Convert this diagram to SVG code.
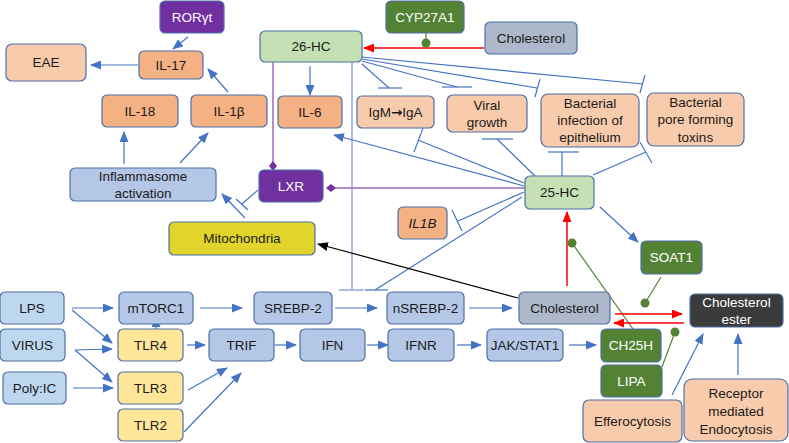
<svg xmlns="http://www.w3.org/2000/svg" width="789" height="443" viewBox="0 0 789 443">
<defs>
<marker id="ab" markerUnits="userSpaceOnUse" markerWidth="11" markerHeight="9" refX="10" refY="4.5" orient="auto"><path d="M0,0 L11,4.5 L0,9 z" fill="#4472C4"/></marker>
<marker id="ar" markerUnits="userSpaceOnUse" markerWidth="11" markerHeight="9" refX="10" refY="4.5" orient="auto"><path d="M0,0 L11,4.5 L0,9 z" fill="#FF0000"/></marker>
<marker id="ak" markerUnits="userSpaceOnUse" markerWidth="11" markerHeight="9" refX="10" refY="4.5" orient="auto"><path d="M0,0 L11,4.5 L0,9 z" fill="#000"/></marker>
<marker id="dp" markerUnits="userSpaceOnUse" markerWidth="10" markerHeight="10" refX="5" refY="5" orient="auto"><path d="M0,5 L5,1 L10,5 L5,9 z" fill="#7030A0"/></marker>
</defs>
<style>
.n{stroke:#4C6FA8;stroke-width:1.2}
.t{font-family:"Liberation Sans",Arial,sans-serif;font-size:13.5px;text-anchor:middle;fill:#1a1a1a}
.w{fill:#fff}
.pe{fill:#F8CBAD}.or{fill:#F4B183}.pu{fill:#7030A0}.gl{fill:#C5E0B4}.gd{fill:#548235}
.gr{fill:#ADB9CA}.bl{fill:#B4C7E7}.lb{fill:#BDD7EE}.ye{fill:#FFE699}.mi{fill:#E1D52B}.dk{fill:#3B3B3B}
.c line,.c path{fill:none;stroke:#4472C4;stroke-width:1.2}
.c .r{stroke:#FF0000;stroke-width:1.5}
.c .k{stroke:#000;stroke-width:1.2}
.c .p{stroke:#9B6BC4;stroke-width:1.5}
.c .g{stroke:#548235;stroke-width:1.2}
.c .v{stroke:#8FAADC;stroke-width:1.5}
.dot{fill:#548235}
</style>

<g class="c" id="connectors">
<line x1="188" y1="37" x2="173" y2="49" marker-end="url(#ab)"/>
<line x1="138" y1="65" x2="91" y2="65" marker-end="url(#ab)"/>
<line x1="228" y1="92" x2="208" y2="69" marker-end="url(#ab)"/>
<line x1="124" y1="164" x2="124" y2="132" marker-end="url(#ab)"/>
<line x1="180" y1="163" x2="208" y2="133" marker-end="url(#ab)"/>
<line x1="245" y1="218" x2="222" y2="194" marker-end="url(#ab)"/>
<line x1="258" y1="190" x2="242" y2="204"/>
<line x1="236" y1="199" x2="248" y2="210"/>
<line class="p" x1="273" y1="62" x2="273" y2="166" marker-end="url(#dp)"/>
<line x1="310" y1="66" x2="310" y2="95" marker-end="url(#ab)"/>
<line class="v" x1="352" y1="62" x2="352" y2="290"/>
<line class="v" x1="339" y1="290" x2="364" y2="290"/>
<line x1="362" y1="64" x2="389" y2="88"/>
<line x1="378" y1="88" x2="402" y2="88"/>
<line x1="362" y1="61" x2="457" y2="87"/>
<line x1="442" y1="87" x2="472" y2="87"/>
<line x1="362" y1="59" x2="537" y2="88"/>
<line x1="540" y1="79" x2="535" y2="97"/>
<line x1="362" y1="57" x2="643" y2="84"/>
<line x1="645" y1="75" x2="640" y2="93"/>
<line class="r" x1="484" y1="48" x2="364" y2="48" marker-end="url(#ar)"/>
<line class="g" x1="426" y1="33" x2="426" y2="43"/>
<circle class="dot" cx="426" cy="43" r="4.5"/>
<line class="p" x1="525" y1="188" x2="331" y2="188" marker-end="url(#dp)"/>
<line x1="524" y1="186" x2="334" y2="135" marker-end="url(#ab)"/>
<line x1="524" y1="183" x2="418" y2="140"/>
<line x1="423" y1="128" x2="414" y2="152"/>
<line x1="535" y1="176" x2="497" y2="139"/>
<line x1="482" y1="139" x2="513" y2="139"/>
<line x1="562" y1="176" x2="562" y2="152"/>
<line x1="548" y1="152" x2="579" y2="152"/>
<line x1="593" y1="175" x2="646" y2="152"/>
<line x1="640" y1="142" x2="652" y2="163"/>
<line x1="524" y1="192" x2="458" y2="221"/>
<line x1="452" y1="210" x2="462" y2="231"/>
<line x1="522" y1="197" x2="375" y2="290"/>
<line x1="365" y1="290" x2="388" y2="290"/>
<line x1="600" y1="207" x2="638" y2="242" marker-end="url(#ab)"/>
<line class="r" x1="567" y1="286" x2="567" y2="212" marker-end="url(#ar)"/>
<line class="g" x1="633" y1="329" x2="572" y2="243"/>
<circle class="dot" cx="572" cy="243" r="4.5"/>
<line class="g" x1="661" y1="277" x2="645" y2="303"/>
<circle class="dot" cx="645" cy="303" r="4.5"/>
<line class="r" x1="615" y1="314" x2="682" y2="314" marker-end="url(#ar)"/>
<line class="r" x1="684" y1="323" x2="614" y2="323" marker-end="url(#ar)"/>
<line class="g" x1="662" y1="367" x2="675" y2="332"/>
<circle class="dot" cx="675" cy="332" r="4.5"/>
<line x1="672" y1="395" x2="703" y2="334" marker-end="url(#ab)"/>
<line x1="738" y1="375" x2="738" y2="334" marker-end="url(#ab)"/>
<line class="k" x1="518" y1="298" x2="318" y2="244" marker-end="url(#ak)"/>
<line x1="72" y1="308" x2="113" y2="308" marker-end="url(#ab)"/>
<line x1="72" y1="310" x2="112" y2="343" marker-end="url(#ab)"/>
<line x1="75" y1="350" x2="112" y2="349" marker-end="url(#ab)"/>
<line x1="75" y1="350" x2="112" y2="382" marker-end="url(#ab)"/>
<line x1="73" y1="388" x2="113" y2="388" marker-end="url(#ab)"/>
<line x1="156" y1="329" x2="156" y2="317" marker-end="url(#ab)"/>
<line x1="200" y1="308" x2="242" y2="308" marker-end="url(#ab)"/>
<line x1="335" y1="308" x2="377" y2="308" marker-end="url(#ab)"/>
<line x1="469" y1="308" x2="512" y2="308" marker-end="url(#ab)"/>
<line x1="187" y1="345" x2="205" y2="345" marker-end="url(#ab)"/>
<line x1="188" y1="390" x2="227" y2="368" marker-end="url(#ab)"/>
<line x1="184" y1="432" x2="241" y2="373" marker-end="url(#ab)"/>
<line x1="275" y1="345" x2="296" y2="345" marker-end="url(#ab)"/>
<line x1="367" y1="345" x2="388" y2="345" marker-end="url(#ab)"/>
<line x1="457" y1="345" x2="481" y2="345" marker-end="url(#ab)"/>
<line x1="569" y1="345" x2="596" y2="345" marker-end="url(#ab)"/>
</g>

<g id="rorgt"><rect class="n pu" x="160" y="1" width="64" height="32" rx="5"/><text class="t w" x="192" y="22">RORγt</text></g>
<g id="eae"><rect class="n pe" x="6" y="44" width="80" height="37" rx="6"/><text class="t" x="46" y="67">EAE</text></g>
<g id="il17"><rect class="n or" x="139" y="51" width="64" height="28" rx="5"/><text class="t" x="171" y="70">IL-17</text></g>
<g id="il18"><rect class="n or" x="102" y="95" width="76" height="32" rx="5"/><text class="t" x="140" y="116">IL-18</text></g>
<g id="il1b"><rect class="n or" x="191" y="95" width="76" height="32" rx="5"/><text class="t" x="229" y="116">IL-1β</text></g>
<g id="hc26"><rect class="n gl" x="260" y="31" width="102" height="31" rx="5"/><text class="t" x="311" y="51">26-HC</text></g>
<g id="cyp27a1"><rect class="n gd" x="386" y="1" width="78" height="32" rx="5"/><text class="t w" x="425" y="22">CYP27A1</text></g>
<g id="chol-top"><rect class="n gr" x="485" y="22" width="92" height="32" rx="5"/><text class="t" x="531" y="43">Cholesterol</text></g>
<g id="il6"><rect class="n or" x="278" y="96" width="64" height="32" rx="5"/><text class="t" x="310" y="117">IL-6</text></g>
<g id="igm"><rect class="n pe" x="357" y="96" width="77" height="32" rx="5"/><text class="t" x="395.5" y="117">IgM<tspan font-family="DejaVu Sans" font-weight="bold">→</tspan>IgA</text></g>
<g id="viral"><rect class="n pe" x="447" y="95" width="80" height="37" rx="6"/><text class="t" x="487" y="110">Viral</text><text class="t" x="487" y="127">growth</text></g>
<g id="bact-inf"><rect class="n pe" x="541" y="94" width="98" height="53" rx="7"/><text class="t" x="590" y="108">Bacterial</text><text class="t" x="590" y="125">infection of</text><text class="t" x="590" y="142">epithelium</text></g>
<g id="bact-pore"><rect class="n pe" x="647" y="93" width="97" height="53" rx="7"/><text class="t" x="695.5" y="107">Bacterial</text><text class="t" x="695.5" y="124">pore forming</text><text class="t" x="695.5" y="142">toxins</text></g>
<g id="inflammasome"><rect class="n bl" x="70" y="168" width="146" height="33" rx="5"/><text class="t" x="143" y="181">Inflammasome</text><text class="t" x="143" y="198">activation</text></g>
<g id="lxr"><rect class="n pu" x="259" y="170" width="64" height="32" rx="5"/><text class="t w" x="291" y="191">LXR</text></g>
<g id="mito"><rect class="n mi" x="169" y="222" width="146" height="33" rx="5"/><text class="t" x="242" y="243">Mitochondria</text></g>
<g id="hc25"><rect class="n gl" x="525" y="176" width="69" height="33" rx="5"/><text class="t" x="559.5" y="197">25-HC</text></g>
<g id="il1b-gene"><rect class="n or" x="398" y="207" width="49" height="32" rx="5"/><text class="t" x="422.5" y="228" font-style="italic">IL1B</text></g>
<g id="soat1"><rect class="n gd" x="641" y="241" width="61" height="33" rx="5"/><text class="t w" x="671.5" y="262">SOAT1</text></g>
<g id="chol-ester"><rect class="n dk" x="690" y="294" width="93" height="33" rx="5"/><text class="t w" x="736.5" y="307">Cholesterol</text><text class="t w" x="736.5" y="324">ester</text></g>
<g id="chol-mid"><rect class="n gr" x="519" y="292" width="91" height="32" rx="5"/><text class="t" x="564.5" y="313">Cholesterol</text></g>
<g id="nsrebp2"><rect class="n bl" x="387" y="292" width="77" height="32" rx="5"/><text class="t" x="425.5" y="313">nSREBP-2</text></g>
<g id="ifnr"><rect class="n bl" x="388" y="329" width="66" height="32" rx="5"/><text class="t" x="421" y="350">IFNR</text></g>
<g id="jakstat"><rect class="n bl" x="487" y="329" width="76" height="32" rx="5"/><text class="t" x="525" y="350">JAK/STAT1</text></g>
<g id="ch25h"><rect class="n gd" x="601" y="329" width="60" height="33" rx="5"/><text class="t w" x="631" y="350">CH25H</text></g>
<g id="lipa"><rect class="n gd" x="601" y="365" width="61" height="32" rx="5"/><text class="t w" x="631.5" y="386">LIPA</text></g>
<g id="effero"><rect class="n pe" x="583" y="400" width="99" height="42" rx="6"/><text class="t" x="632.5" y="426">Efferocytosis</text></g>
<g id="receptor"><rect class="n pe" x="684" y="379" width="104" height="62" rx="8"/><text class="t" x="736" y="398">Receptor</text><text class="t" x="736" y="416">mediated</text><text class="t" x="736" y="434">Endocytosis</text></g>
<g id="lps"><rect class="n lb" x="0" y="292" width="64" height="32" rx="5"/><text class="t" x="32" y="313">LPS</text></g>
<g id="virus"><rect class="n lb" x="0" y="329" width="65" height="32" rx="5"/><text class="t" x="32.5" y="350">VIRUS</text></g>
<g id="polyic"><rect class="n lb" x="3" y="372" width="63" height="32" rx="5"/><text class="t" x="34.5" y="393">Poly:IC</text></g>
<g id="mtorc1"><rect class="n bl" x="119" y="292" width="74" height="32" rx="5"/><text class="t" x="156" y="313">mTORC1</text></g>
<g id="tlr4"><rect class="n ye" x="118" y="329" width="65" height="32" rx="5"/><text class="t" x="150.5" y="350">TLR4</text></g>
<g id="tlr3"><rect class="n ye" x="118" y="372" width="65" height="32" rx="5"/><text class="t" x="150.5" y="393">TLR3</text></g>
<g id="tlr2"><rect class="n ye" x="118" y="409" width="65" height="32" rx="5"/><text class="t" x="150.5" y="430">TLR2</text></g>
<g id="srebp2"><rect class="n bl" x="254" y="292" width="78" height="32" rx="5"/><text class="t" x="293" y="313">SREBP-2</text></g>
<g id="trif"><rect class="n bl" x="209" y="329" width="65" height="32" rx="5"/><text class="t" x="241.5" y="350">TRIF</text></g>
<g id="ifn"><rect class="n bl" x="300" y="329" width="65" height="32" rx="5"/><text class="t" x="332.5" y="350">IFN</text></g>
</svg>
